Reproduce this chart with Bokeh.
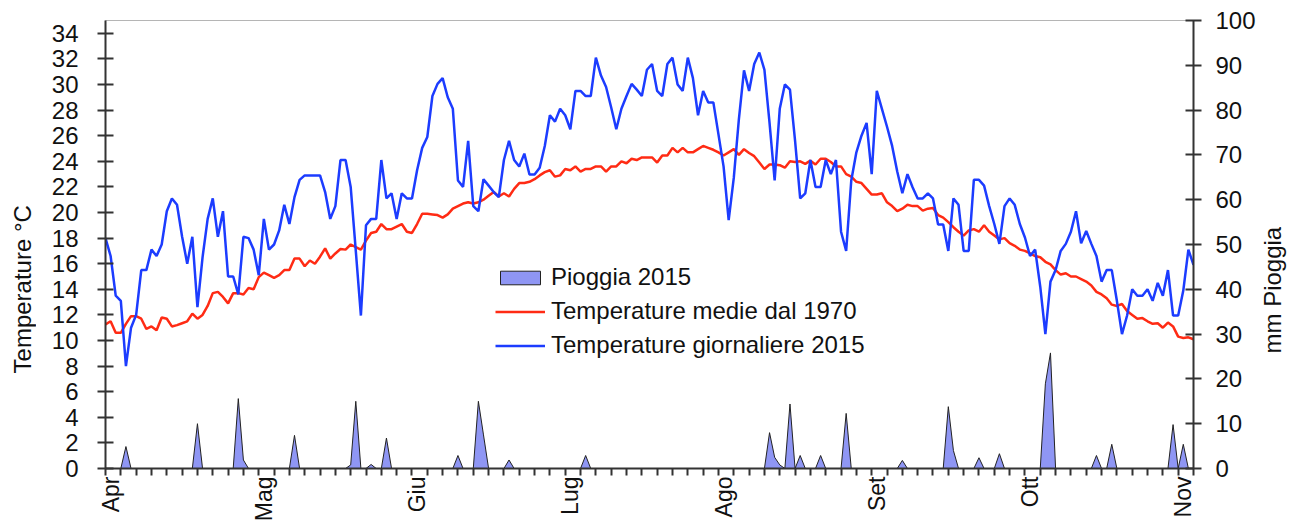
import math
from bokeh.plotting import figure
from bokeh.layouts import row
from bokeh.models import Range1d, LinearAxis, FixedTicker, Legend, LegendItem, Label
from bokeh.embed import file_html
from bokeh.resources import INLINE

# ---------------- data ----------------
month_labels = ["Apr", "Mag", "Giu", "Lug", "Ago", "Set", "Ott", "Nov"]
month_label_pos = [1, 31, 61, 91, 121, 151, 181, 211]

temp_2015 = [
    18.0, 16.6, 13.5, 13.1, 8.0, 11.0, 12.0, 15.5, 15.5, 17.1,
    16.6, 17.5, 20.1, 21.1, 20.6, 18.1, 16.0, 18.1, 12.6, 16.5,
    19.5, 21.1, 18.1, 20.1, 15.0, 15.0, 13.6, 18.1, 18.0, 17.1,
    15.1, 19.5, 17.1, 17.5, 18.6, 20.6, 19.1, 21.2, 22.55, 22.9,
    22.9, 22.9, 22.9, 21.6, 19.5, 20.5, 24.1, 24.1, 22.0, 17.0,
    11.95, 19.0, 19.5, 19.5, 24.1, 21.1, 21.5, 19.5, 21.5, 21.1,
    21.1, 23.3, 25.05, 25.9, 29.1, 30.05, 30.5, 29.0, 28.1, 22.5,
    22.0, 25.6, 20.5, 20.1, 22.6, 22.1, 21.6, 21.2, 24.1, 25.6,
    24.1, 23.6, 24.6, 22.97, 22.97, 23.5, 25.2, 27.6, 27.1, 28.1,
    27.6, 26.5, 29.5, 29.5, 29.1, 29.1, 32.1, 30.7, 29.8, 28.2,
    26.5, 28.1, 29.1, 30.05, 29.6, 29.1, 31.15, 31.6, 29.5, 29.1,
    31.6, 32.1, 30.0, 29.5, 32.1, 30.5, 27.6, 29.5, 28.6, 28.6,
    26.1, 23.6, 19.4, 22.7, 27.3, 31.1, 29.5, 31.6, 32.5, 31.15,
    27.0, 22.5, 28.1, 30.0, 29.6, 25.6, 21.1, 21.5, 24.1, 22.0,
    22.0, 24.1, 23.0, 24.1, 18.5, 17.0, 22.5, 24.7, 26.0, 27.0,
    23.0, 29.5, 28.1, 26.7, 25.2, 23.2, 21.5, 23.0, 21.97, 21.1,
    21.1, 21.5, 21.1, 19.06, 19.06, 17.0, 21.1, 20.6, 17.0, 17.0,
    22.55, 22.55, 22.1, 20.5, 19.1, 17.55, 20.5, 21.1, 20.6, 19.1,
    18.05, 16.6, 17.1, 14.2, 10.5, 14.6, 15.5, 17.0, 17.55, 18.5,
    20.1, 17.6, 18.55, 17.55, 16.6, 14.6, 15.5, 15.5, 13.1, 10.5,
    11.95, 14.0, 13.5, 13.5, 14.0, 13.1, 14.5, 13.5, 15.5, 11.95,
    11.95, 13.9, 17.1, 15.9,
]

temp_avg_1970 = [
    11.25, 11.5, 10.6, 10.6, 11.3, 11.9, 11.9, 11.7, 10.9, 11.1,
    10.8, 11.8, 11.7, 11.1, 11.2, 11.35, 11.5, 12.1, 11.7, 12.0,
    12.7, 13.7, 13.8, 13.4, 12.9, 13.7, 13.7, 13.6, 14.1, 14.0,
    14.95, 15.3, 15.1, 14.9, 15.1, 15.5, 15.5, 16.4, 16.4, 15.8,
    16.25, 16.0, 16.55, 17.2, 16.4, 16.8, 17.15, 17.1, 17.5, 17.3,
    17.1, 17.8, 18.4, 18.5, 19.1, 18.7, 18.7, 18.9, 19.1, 18.5,
    18.4, 19.1, 19.9, 19.9, 19.85, 19.8, 19.6, 19.85, 20.3, 20.5,
    20.7, 20.8, 20.7, 20.8, 21.0, 21.3, 21.6, 21.25, 21.5, 21.25,
    21.85, 22.3, 22.3, 22.4, 22.6, 22.9, 23.15, 23.3, 22.8, 22.9,
    23.4, 23.3, 23.6, 23.2, 23.4, 23.4, 23.6, 23.6, 23.2, 23.6,
    23.6, 24.0, 23.85, 24.2, 24.1, 24.3, 24.3, 24.3, 23.9, 24.45,
    24.45, 25.05, 24.7, 25.05, 24.7, 24.7, 24.95, 25.2, 25.05, 24.9,
    24.7, 24.45, 24.7, 24.95, 24.5, 24.95, 24.65, 24.4, 23.9, 23.4,
    23.75, 23.75, 23.7, 23.5, 24.0, 23.95, 24.0, 23.8, 24.05, 23.75,
    24.2, 24.2, 23.95, 23.6, 23.6, 23.0, 22.8, 22.4, 22.3, 21.85,
    21.4, 21.4, 21.5, 20.8, 20.5, 20.1, 20.3, 20.6, 20.5, 20.5,
    20.15, 20.3, 20.35, 19.8, 19.6, 19.25, 18.85, 18.5, 18.2, 18.6,
    18.7, 18.5, 19.0, 18.5, 18.2, 17.9, 18.0, 17.6, 17.4, 17.1,
    17.0, 16.8, 16.6, 16.5, 16.15, 15.95, 15.5, 15.15, 15.25, 15.0,
    15.0, 14.8, 14.6, 14.3, 13.8, 13.6, 13.3, 12.8, 12.7, 12.85,
    12.3, 12.0, 11.7, 11.75, 11.5, 11.3, 11.35, 11.0, 11.4, 11.1,
    10.3, 10.2, 10.25, 10.1,
]

rain_days = [4, 18, 26, 27, 37, 48, 49, 52, 55, 69, 73, 74, 79, 94,
             130, 131, 132, 134, 136, 140, 145, 156, 165, 166, 171, 175,
             184, 185, 194, 197, 209, 211]
rain_mm = [4.9, 10.0, 15.6, 1.9, 7.4, 0.8, 15.0, 0.9, 6.8, 2.9, 15.0, 7.5, 1.9, 2.9,
           8.0, 2.5, 0.8, 14.4, 2.9, 2.9, 12.3, 1.8, 13.8, 4.0, 2.4, 3.3,
           18.9, 25.8, 2.9, 5.4, 9.8, 5.4]

n_days = len(temp_2015)
days = list(range(n_days))
rain = [0.0] * n_days
for d, v in zip(rain_days, rain_mm):
    rain[d] = v

# ---------------- styling ----------------
FONT = "Liberation Sans"
TXT = "#111111"
AX = "#333333"
H = 530
W_LEFT, W_RIGHT = 36, 38
W_MAIN = 1296 - W_LEFT - W_RIGHT


def side_title(width, text, cx, cy):
    f = figure(width=width, height=H, output_backend="svg", toolbar_location=None,
               x_range=Range1d(0, width), y_range=Range1d(0, H), min_border=0,
               x_axis_location=None, y_axis_location=None)
    f.grid.visible = False
    f.outline_line_color = None
    f.add_layout(Label(x=cx, y=H - cy, text=text, angle=90, angle_units="deg",
                       text_align="center", text_baseline="middle", text_font=FONT,
                       text_font_size="24px", text_color=TXT))
    return f


p = figure(width=W_MAIN, height=H, output_backend="svg", toolbar_location=None,
           x_range=Range1d(0, n_days - 1), y_range=Range1d(0, 35),
           min_border_left=105 - W_LEFT, min_border_right=W_MAIN + W_LEFT - 1195,
           min_border_top=20, min_border_bottom=62)
p.extra_y_ranges = {"rain": Range1d(0, 100)}
p.grid.visible = False
p.outline_line_color = "#b5b5b5"
p.background_fill_color = "white"
p.border_fill_color = "white"

r_rain = p.patch([0] + days + [n_days - 1], [0] + rain + [0], y_range_name="rain",
                 fill_color="#8F96F4", line_color="#222222", line_width=1)
r_avg = p.line(days, temp_avg_1970, line_color="#FF2B14", line_width=2.5)
r_day = p.line(days, temp_2015, line_color="#1C3CFF", line_width=2.5)

# bottom axis: tick marks every 3 days, no labels
xa = p.xaxis[0]
xticks = list(range(0, n_days, 3))
xa.ticker = FixedTicker(ticks=xticks)
xa.major_label_overrides = {t: "" for t in xticks}
xa.major_label_orientation = math.pi / 2
xa.major_tick_in = 0
xa.major_tick_out = 7
xa.minor_tick_line_color = None
xa.major_label_standoff = 4
xa.major_label_text_font_size = "23px"
xa.axis_line_color = AX
xa.axis_line_width = 2
xa.major_tick_line_color = AX
xa.major_tick_line_width = 2

# month labels (second bottom axis without line or ticks)
ma = LinearAxis(ticker=FixedTicker(ticks=month_label_pos),
                major_label_overrides=dict(zip(month_label_pos, month_labels)))
ma.major_label_orientation = math.pi / 2
ma.axis_line_color = None
ma.major_tick_line_color = None
ma.minor_tick_line_color = None
ma.major_tick_in = 0
ma.major_tick_out = 0
ma.major_label_standoff = 1
ma.major_label_text_font = FONT
ma.major_label_text_font_size = "23px"
ma.major_label_text_color = TXT
p.add_layout(ma, "below")

# left axis
ya = p.yaxis[0]
ya.ticker = FixedTicker(ticks=list(range(0, 35, 2)))
ya.major_tick_in = 8
ya.major_tick_out = 8
ya.minor_tick_line_color = None
ya.major_label_standoff = 19
ya.major_label_text_font = FONT
ya.major_label_text_font_size = "24px"
ya.major_label_text_color = TXT
ya.axis_line_color = AX
ya.axis_line_width = 2
ya.major_tick_line_color = AX
ya.major_tick_line_width = 2

# right axis
ra = LinearAxis(y_range_name="rain", ticker=FixedTicker(ticks=list(range(0, 101, 10))))
ra.major_tick_in = 8
ra.major_tick_out = 8
ra.minor_tick_line_color = None
ra.major_label_standoff = 14
ra.major_label_text_font = FONT
ra.major_label_text_font_size = "24px"
ra.major_label_text_color = TXT
ra.axis_line_color = AX
ra.axis_line_width = 2
ra.major_tick_line_color = AX
ra.major_tick_line_width = 2
p.add_layout(ra, "right")

legend = Legend(items=[LegendItem(label="Pioggia 2015", renderers=[r_rain]),
                       LegendItem(label="Temperature medie dal 1970", renderers=[r_avg]),
                       LegendItem(label="Temperature giornaliere 2015", renderers=[r_day])],
                location=(390, 109), glyph_width=50, glyph_height=17, label_standoff=6,
                label_text_font=FONT, label_text_font_size="24px", label_text_color=TXT,
                padding=0, margin=0, spacing=6, background_fill_alpha=0, border_line_alpha=0)
p.add_layout(legend)

left_title = side_title(W_LEFT, "Temperature °C", 22, 318)
right_title = side_title(W_RIGHT, "mm Pioggia", 1272 - (W_LEFT + W_MAIN), 319)

layout = row(left_title, p, right_title)
open("out.html", "w").write(file_html(layout, INLINE))
